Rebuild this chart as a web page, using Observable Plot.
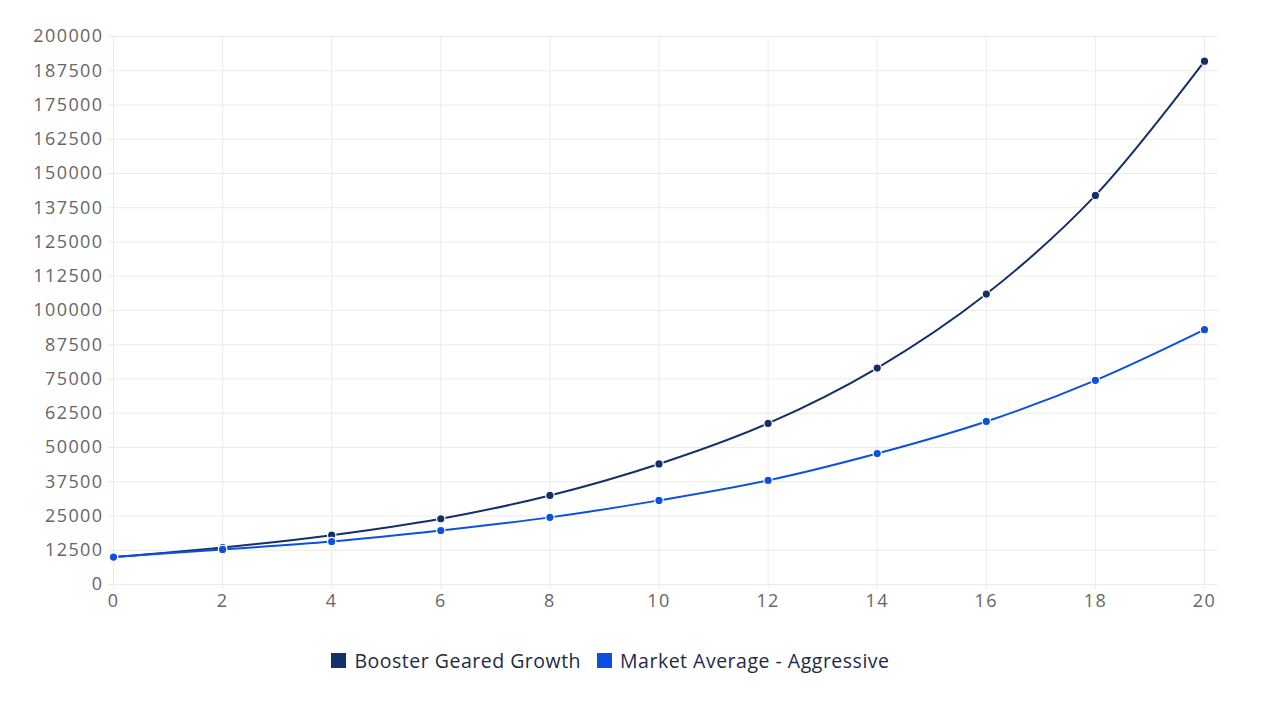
<!DOCTYPE html>
<html><head><meta charset="utf-8">
<script src="https://cdn.jsdelivr.net/npm/d3@7"></script>
<script src="https://cdn.jsdelivr.net/npm/@observablehq/plot@0.6"></script>
<style>
body{margin:0;background:#fff;font-family:"Open Sans",Lato,sans-serif;}
#legend{display:flex;justify-content:center;gap:16px;margin-top:27px;font-size:19.5px;letter-spacing:0.5px;color:#1c2b45;padding-right:62px;}
#legend span.item{display:flex;align-items:center;gap:8px;}
#legend span.sw{width:15px;height:15px;display:inline-block;}
svg text{letter-spacing:1.4px;}
</style></head>
<body><div id="chart"></div><div id="legend"></div>
<script>
const years = [0,2,4,6,8,10,12,14,16,18,20];
const boosterValues = [10000,13500,18000,24000,32500,44000,58800,79000,106000,142000,191000];
const marketValues = [10000,12800,15700,19700,24500,30700,38000,47800,59500,74500,93000];
const seriesNames = ["Booster Geared Growth","Market Average - Aggressive"];
const seriesColors = ["#13306a","#0b50e3"];
const yTicks = d3.range(0,200001,12500);
const xTicks = d3.range(0,21,2);

const data = [];
years.forEach((y,i)=>{
  data.push({year:y,value:boosterValues[i],series:seriesNames[0]});
  data.push({year:y,value:marketValues[i],series:seriesNames[1]});
});

const plot = Plot.plot({
  width:1283, height:620,
  marginLeft:113, marginRight:79, marginTop:36, marginBottom:36,
  style:{fontFamily:'"Open Sans",Lato,sans-serif',fontSize:"18px",color:"#666"},
  x:{domain:[0,20],ticks:xTicks,tickSize:0,label:null,tickFormat:d=>String(d)},
  y:{domain:[0,200000],ticks:yTicks,tickSize:0,label:null,tickFormat:d=>String(d)},
  color:{domain:seriesNames,range:seriesColors},
  marks:[
    Plot.ruleY(yTicks,{stroke:"#ebebeb",strokeWidth:1,insetLeft:-5,insetRight:-14}),
    Plot.ruleX(xTicks,{stroke:"#ebebeb",strokeWidth:1,insetBottom:-5}),
    Plot.line(data,{x:"year",y:"value",stroke:"series",z:"series",curve:"catmull-rom",strokeWidth:2}),
    Plot.dot(data,{x:"year",y:"value",fill:"series",stroke:"white",strokeWidth:1.2,r:4.2}),
    Plot.axisX({ticks:xTicks,tickSize:0,tickPadding:10,tickFormat:d=>String(d),fill:"#666"}),
    Plot.axisY({ticks:yTicks,tickSize:0,tickPadding:10,tickFormat:d=>String(d),fill:"#666"})
  ]
});
document.getElementById("chart").appendChild(plot);
const lg = document.getElementById("legend");
seriesNames.forEach((n,i)=>{
  const it=document.createElement("span");it.className="item";
  const sw=document.createElement("span");sw.className="sw";sw.style.background=seriesColors[i];
  it.appendChild(sw);it.appendChild(document.createTextNode(n));lg.appendChild(it);
});
</script></body></html>
